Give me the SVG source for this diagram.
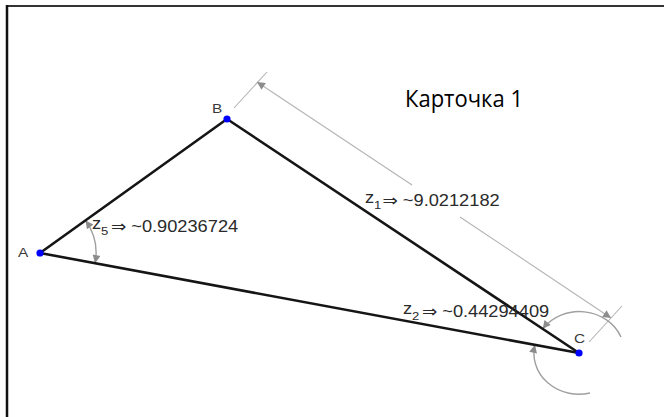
<svg xmlns="http://www.w3.org/2000/svg" width="664" height="417" viewBox="0 0 664 417">
<style>
.side{stroke:#151515;stroke-width:2.6;fill:none;stroke-linecap:round}
.dim{stroke:#b4b4b4;stroke-width:1.1;fill:none}
.arc{stroke:#a0a0a0;stroke-width:1.4;fill:none}
.pt{fill:#0000ff}
.lbl{font-family:"Liberation Sans",Arial,sans-serif;font-size:13.5px;fill:#3a3a3a}
.val{font-family:"Liberation Sans","DejaVu Sans",sans-serif;font-size:16px;fill:#2a2a2a}
.sub{font-size:11.5px}
.title{font-family:"Open Sans","Noto Sans",sans-serif;font-size:24px;fill:#000}
</style>
<defs>
<marker id="ah" viewBox="0 0 10 10" refX="10" refY="5" markerWidth="10" markerHeight="8" markerUnits="userSpaceOnUse" orient="auto-start-reverse">
<path d="M0,0 L10,5 L0,10 z" fill="#8c8c8c"/>
</marker>
</defs>
<rect width="664" height="417" fill="#fff"/>
<g id="frame">
<line x1="6" y1="6" x2="664" y2="6" stroke="#333" stroke-width="2"/>
<line x1="7" y1="5" x2="7" y2="417" stroke="#111" stroke-width="2.5"/>
</g>
<g id="annotations">
<line class="dim" x1="234" y1="108" x2="267" y2="72"/>
<line class="dim" x1="589" y1="342" x2="622" y2="306"/>
<line class="dim" x1="257" y1="82" x2="412" y2="185" marker-start="url(#ah)"/>
<line class="dim" x1="460" y1="217" x2="611" y2="318" marker-end="url(#ah)"/>
<path class="arc" d="M85.5,220.4 A56 56 0 0 1 95.1,263.2" marker-start="url(#ah)" marker-end="url(#ah)"/>
<path class="arc" d="M542.7,328.8 A45 41 0 0 1 621,337" marker-start="url(#ah)"/>
<path class="arc" d="M590,393 A45 41 0 0 1 534.9,344.8" marker-end="url(#ah)"/>
</g>
<g id="connectors">
<line class="side" x1="40" y1="253" x2="227" y2="119"/>
<line class="side" x1="227" y1="119" x2="579" y2="353"/>
<line class="side" x1="40" y1="253" x2="579" y2="353"/>
</g>
<g id="node-A"><circle class="pt" cx="40" cy="253" r="3.6"/><text class="lbl" transform="translate(18,257) scale(1.14,1)">A</text></g>
<g id="node-B"><circle class="pt" cx="227" cy="119" r="3.6"/><text class="lbl" transform="translate(212,113) scale(1.14,1)">B</text></g>
<g id="node-C"><circle class="pt" cx="579" cy="353" r="3.6"/><text class="lbl" transform="translate(574,343) scale(1.14,1)">C</text></g>
<g id="labels">
<text class="val" transform="translate(92,232) scale(1.14,1)"><tspan dy="-3.2">z</tspan><tspan class="sub" dy="6.2">5</tspan><tspan dx="2.2" dy="-3">⇒ ~0.90236724</tspan></text>
<text class="val" transform="translate(365,206) scale(1.14,1)"><tspan dy="-3.2">z</tspan><tspan class="sub" dy="6.2">1</tspan><tspan dx="1" dy="-3">⇒ ~9.0212182</tspan></text>
<text class="val" transform="translate(403,317) scale(1.14,1)"><tspan dy="-3.2">z</tspan><tspan class="sub" dy="6.2">2</tspan><tspan dx="2.2" dy="-3">⇒ ~0.44294409</tspan></text>
<text class="title" x="405" y="107" textLength="118" lengthAdjust="spacingAndGlyphs">Карточка 1</text>
</g>
</svg>
